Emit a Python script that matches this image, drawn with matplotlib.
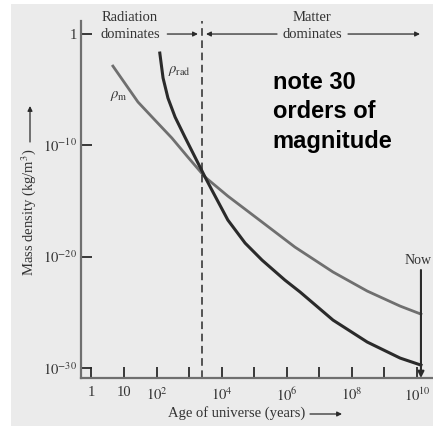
import matplotlib.pyplot as plt
import matplotlib.patches as patches
import numpy as np

plt.rcParams["font.family"] = ["Liberation Serif", "DejaVu Serif"]
plt.rcParams["mathtext.fontset"] = "stix"

# curves: log10(age in years), log10(density in kg/m^3)
m_logt = [0.66, 1.43, 1.95, 2.47, 2.96, 3.49, 4.19, 5.24, 6.25, 7.42, 8.47, 9.48, 10.12]
m_logrho = [-2.88, -6.11, -7.73, -9.34, -11.05, -12.85, -14.56, -16.89, -19.14, -21.38,
            -23.09, -24.44, -25.16]

rad_logt = [2.10, 2.20, 2.35, 2.57, 2.87, 3.18, 3.49, 3.70, 4.19, 4.72, 5.24, 5.94, 6.41,
            7.42, 8.47, 9.48, 10.12]
rad_logrho = [-1.71, -3.95, -5.75, -7.46, -9.25, -11.05, -12.85, -14.02, -16.71, -18.78,
              -20.31, -22.10, -23.18, -25.70, -27.67, -29.11, -29.74]

equality_logt = 3.40
now_logt = 10.12

x_ticks = list(range(0, 11))
x_labels = {0: "1", 1: "10", 2: r"$10^2$", 4: r"$10^4$", 6: r"$10^6$", 8: r"$10^8$", 10: r"$10^{10}$"}
y_ticks = [0, -10, -20, -30]
y_labels = ["1", r"$10^{-10}$", r"$10^{-20}$", r"$10^{-30}$"]

bg = "#ebebeb"
gray = "#6f6f6f"
dark = "#2a2a2a"
txt = "#333333"

fig = plt.figure(figsize=(4.33, 4.26), dpi=100)
fig.patch.set_facecolor("white")
fig.patches.append(patches.Rectangle((11 / 433, 0), 1, (426 - 4) / 426,
                                     transform=fig.transFigure, fc=bg, ec="none", zorder=-10))

ax = fig.add_axes([81 / 433, 48 / 426, 1 - 81 / 433, (378 - 21) / 426])
ax.set_facecolor("none")
ax.set_xscale("log")
ax.set_yscale("log")
ylo, yhi = 10 ** -30.9, 10 ** 1.17
ax.set_xlim(10 ** -0.32, 10 ** 10.49)
ax.set_ylim(ylo, yhi)

for s in ["top", "right"]:
    ax.spines[s].set_visible(False)
for s in ["left", "bottom"]:
    ax.spines[s].set_color(gray)
    ax.spines[s].set_linewidth(1.6)

ax.set_xticks([10.0 ** k for k in x_ticks])
ax.set_xticklabels([x_labels.get(k, "") for k in x_ticks])
ax.set_yticks([10.0 ** k for k in y_ticks])
ax.set_yticklabels(y_labels)
ax.minorticks_off()
ax.tick_params(direction="in", length=8, width=1.3, color=dark, labelsize=10.5,
               labelcolor=txt)
ax.tick_params(axis="x", pad=6)
ax.tick_params(axis="y", pad=3)

ax.plot(10.0 ** np.array(m_logt), 10.0 ** np.array(m_logrho), color=gray, lw=2.0)
ax.plot(10.0 ** np.array(rad_logt), 10.0 ** np.array(rad_logrho), color=dark, lw=2.2)

ax.plot([10 ** equality_logt] * 2, [ylo, yhi], color=dark, lw=1.1,
        ls=(0, (5, 3)), clip_on=False)

ax.text(10 ** 0.57, 10 ** -5.57, r"$\rho_{\rm m}$", fontsize=10.5, color=txt, va="center")
ax.text(10 ** 2.35, 10 ** -3.32, r"$\rho_{\rm rad}$", fontsize=10.5, color=txt, va="center")

# era annotations
arrow = dict(arrowstyle="-|>", color=dark, lw=0.9, mutation_scale=7, shrinkA=0, shrinkB=0)
ax.text(10 ** 1.18, 10 ** 1.45, "Radiation", ha="center", va="center", fontsize=10.5, color=txt)
ax.text(10 ** 1.18, 10 ** 0.0, "dominates", ha="center", va="center", fontsize=10.5, color=txt)
ax.annotate("", xy=(10 ** 3.27, 1), xytext=(10 ** 2.33, 1), arrowprops=arrow, annotation_clip=False)
ax.text(10 ** 6.78, 10 ** 1.45, "Matter", ha="center", va="center", fontsize=10.5, color=txt)
ax.text(10 ** 6.78, 10 ** 0.0, "dominates", ha="center", va="center", fontsize=10.5, color=txt)
ax.annotate("", xy=(10 ** 3.52, 1), xytext=(10 ** 5.7, 1), arrowprops=arrow, annotation_clip=False)
ax.annotate("", xy=(10 ** 10.09, 1), xytext=(10 ** 7.88, 1), arrowprops=arrow, annotation_clip=False)

# now marker
ax.text(10 ** 9.62, 10 ** -20.3, "Now", ha="left", va="center", fontsize=10, color=txt,
        clip_on=False)
ax.annotate("", xy=(10 ** now_logt, ylo), xytext=(10 ** now_logt, 10 ** -21.2),
            arrowprops=dict(arrowstyle="-|>", color=dark, lw=1.5, mutation_scale=9,
                            shrinkA=0, shrinkB=0), annotation_clip=False)

ax.text(10 ** 5.57, 10 ** -3.3, "note 30\norders of\nmagnitude", ha="left", va="top",
        fontsize=17, fontweight="bold", family="Liberation Sans", linespacing=1.37)

# axis labels with arrows
fig.text(237, 13, "Age of universe (years)", ha="center", va="center",
         transform=None, fontsize=10.5, color=txt)
ax.annotate("", xy=(342, 12), xytext=(310, 12), xycoords="figure pixels",
            textcoords="figure pixels", arrowprops=arrow)
fig.text(29, 426 - 212, "Mass density (kg/m$^3$)", ha="center", va="center",
         rotation=90, transform=None, fontsize=10.5, color=txt)
ax.annotate("", xy=(30, 426 - 106), xytext=(30, 426 - 142), xycoords="figure pixels",
            textcoords="figure pixels", arrowprops=arrow)

fig.savefig("out.png", dpi=100, facecolor=fig.get_facecolor())
